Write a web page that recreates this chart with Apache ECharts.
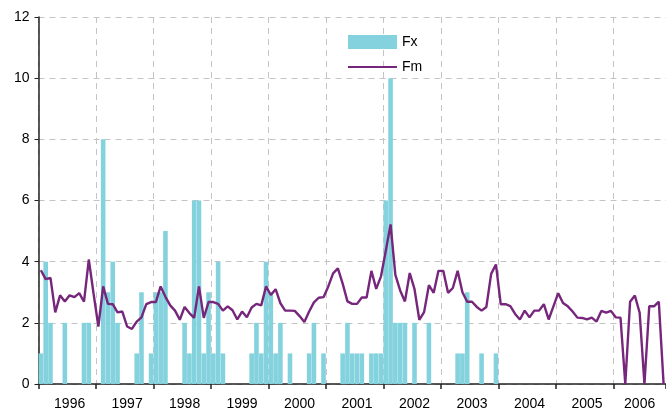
<!DOCTYPE html>
<html>
<head>
<meta charset="utf-8">
<title>Fx / Fm</title>
<script src="https://cdn.jsdelivr.net/npm/echarts@6/dist/echarts.min.js"></script>
<style>
    html, body { margin: 0; padding: 0; background: #ffffff; }
    #chartBox { width: 666px; height: 417px; }
</style>
</head>
<body>
<div id="chartBox"></div>
<script>
/**
 * Fx (bars) and Fm (line), monthly 1996 - 2006
 */
(function(){

    var _years = ['1996', '1997', '1998', '1999', '2000', '2001', '2002', '2003', '2004', '2005', '2006'];
    var _monthsInLastYear = 11;

    var _fx = [
        1, 4, 2, 0, 0, 2, 0, 0, 0, 2, 2, 0,
        0, 8, 3, 4, 2, 0, 0, 0, 1, 3, 0, 1,
        3, 3, 5, 0, 0, 0, 2, 1, 6, 6, 1, 3,
        1, 4, 1, 0, 0, 0, 0, 0, 1, 2, 1, 4,
        3, 1, 2, 0, 1, 0, 0, 0, 1, 2, 0, 1,
        0, 0, 0, 1, 2, 1, 1, 1, 0, 1, 1, 1,
        6, 10, 2, 2, 2, 0, 2, 0, 0, 2, 0, 0,
        0, 0, 0, 1, 1, 3, 0, 0, 1, 0, 0, 1,
        0, 0, 0, 0, 0, 0, 0, 0, 0, 0, 0, 0,
        0, 0, 0, 0, 0, 0, 0, 0, 0, 0, 0, 0,
        0, 0, 0, 0, 0, 0, 0, 0, 0, 0, 0
    ];

    var _fm = [
        3.72, 3.43, 3.47, 2.34, 2.90, 2.70, 2.90, 2.84, 2.97, 2.69, 4.07, 2.95,
        1.88, 3.19, 2.62, 2.61, 2.34, 2.37, 1.88, 1.80, 2.04, 2.18, 2.61, 2.68,
        2.68, 3.19, 2.85, 2.57, 2.40, 2.10, 2.52, 2.32, 2.16, 3.19, 2.16, 2.68,
        2.68, 2.62, 2.40, 2.54, 2.41, 2.11, 2.37, 2.18, 2.50, 2.62, 2.57, 3.19,
        2.91, 3.10, 2.64, 2.40, 2.40, 2.39, 2.22, 2.03, 2.37, 2.67, 2.82, 2.84,
        3.19, 3.62, 3.78, 3.28, 2.70, 2.62, 2.62, 2.83, 2.83, 3.70, 3.11, 3.52,
        4.35, 5.22, 3.57, 3.06, 2.70, 3.63, 3.10, 2.10, 2.35, 3.23, 2.98, 3.70,
        3.70, 2.98, 3.14, 3.70, 3.00, 2.69, 2.69, 2.52, 2.40, 2.52, 3.60, 3.91,
        2.61, 2.61, 2.55, 2.29, 2.11, 2.40, 2.18, 2.40, 2.40, 2.61, 2.11, 2.54,
        2.97, 2.65, 2.54, 2.37, 2.17, 2.16, 2.11, 2.17, 2.04, 2.39, 2.33, 2.39,
        2.18, 2.17, 0, 2.69, 2.89, 2.33, 0, 2.54, 2.54, 2.69, 0
    ];

    var _yTicks = [0, 2, 4, 6, 8, 10, 12];

    var _fontFamily = 'Arial, "Liberation Sans", sans-serif';

    //months as categories, year of each month kept for the labels
    var _months = [], _monthYear = [];
    (function(){
        for(var i = 0; i < _years.length; i++){
            var _count = i == _years.length - 1 ? _monthsInLastYear : 12;
            for(var j = 0; j < _count; j++){
                _months.push(_years[i] + '-' + (j < 9 ? '0' : '') + (j + 1));
                _monthYear.push(_years[i]);
            }
        }
    })();

    //year label sits in the middle of its months
    function isLabelIndex(_index){
        var _y = Math.floor(_index / 12);
        var _count = _y == _years.length - 1 ? _monthsInLastYear : 12;
        return _index % 12 == Math.floor(_count / 2);
    }

    function isYearStart(_index){
        return _index % 12 == 0;
    }

    function getParams(){
        return {
            animation: false,
            textStyle: { fontFamily: _fontFamily },
            grid: {
                left: 38.5,
                top: 17,
                bottom: 33,
                right: -3.3
            },
            legend: {
                orient: 'vertical',
                left: 347,
                top: 35,
                padding: 0,
                itemWidth: 49,
                itemHeight: 14,
                itemGap: 11,
                textStyle: { fontSize: 14, color: '#000000', fontFamily: _fontFamily },
                data: [
                    {name: 'Fx', icon: 'rect'},
                    {name: 'Fm', itemStyle: { opacity: 0 }}
                ]
            },
            xAxis: {
                type: 'category',
                data: _months,
                boundaryGap: true,
                axisLine: { lineStyle: { color: '#222222', width: 1.5 } },
                axisTick: {
                    show: true,
                    length: 5,
                    interval: isYearStart,
                    lineStyle: { color: '#222222', width: 1.5 }
                },
                axisLabel: {
                    interval: isLabelIndex,
                    formatter: function(_value, _index){
                        return _monthYear[_index];
                    },
                    margin: 13,
                    fontSize: 14,
                    color: '#000000',
                    fontFamily: _fontFamily
                },
                splitLine: {
                    show: true,
                    interval: isYearStart,
                    lineStyle: { color: '#c4c4c4', width: 1, type: [6, 5] }
                }
            },
            yAxis: {
                type: 'value',
                min: _yTicks[0],
                max: _yTicks[_yTicks.length - 1],
                interval: _yTicks[1] - _yTicks[0],
                axisLine: { show: true, lineStyle: { color: '#222222', width: 1.5 } },
                axisTick: { show: true, length: 4, lineStyle: { color: '#222222', width: 1 } },
                axisLabel: { margin: 9, fontSize: 14, color: '#000000', fontFamily: _fontFamily },
                splitLine: {
                    show: true,
                    lineStyle: { color: '#c4c4c4', width: 1, type: [6, 5] }
                }
            },
            series: [
                {
                    name: 'Fx',
                    type: 'bar',
                    data: _fx,
                    barCategoryGap: '4%',
                    itemStyle: { color: '#84d2dd' }
                },
                {
                    name: 'Fm',
                    type: 'line',
                    data: _fm,
                    symbol: 'none',
                    lineStyle: { color: '#76267b', width: 2.4 },
                    itemStyle: { color: '#76267b' },
                    z: 5
                }
            ]
        };
    }

    function renderChartBox(){
        var _chart = echarts.init(document.getElementById('chartBox'), null, { renderer: 'canvas' });
        _chart.setOption(getParams());
    }

    renderChartBox();
})();
</script>
</body>
</html>
